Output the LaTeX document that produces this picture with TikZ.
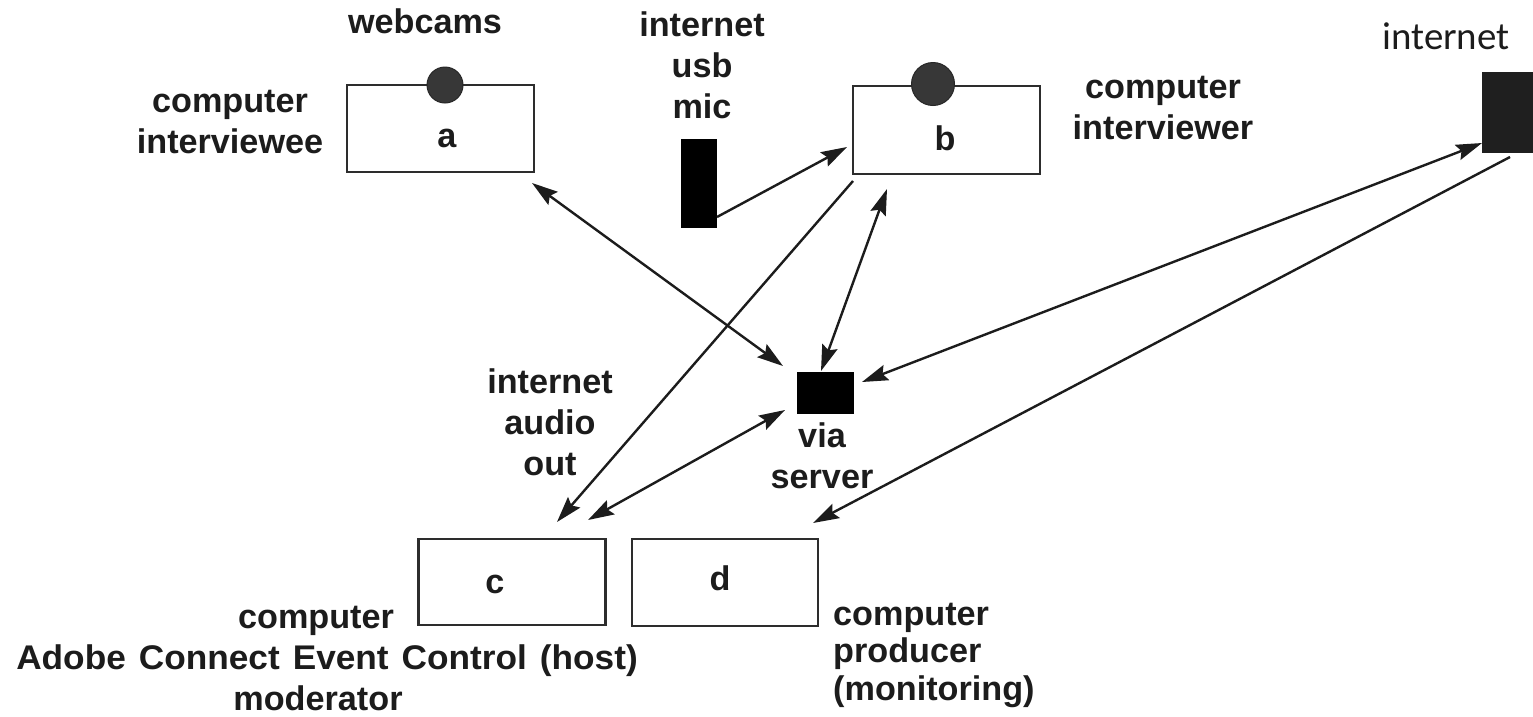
\documentclass[tikz,border=0pt]{standalone}
\usepackage{fontspec}
\setmainfont{Liberation Sans}
\newfontfamily\carl{Carlito}
\usetikzlibrary{arrows.meta}
\definecolor{ink}{RGB}{28,28,28}
\definecolor{boxline}{RGB}{45,45,45}
\definecolor{camc}{RGB}{55,55,55}
\begin{document}
\begin{tikzpicture}[x=1pt,y=-1pt,
  lbl/.style={font=\fontsize{34.2}{41}\bfseries\selectfont, text=ink, inner sep=0pt, align=center, anchor=base},
  comp/.style={draw=boxline, line width=2.5pt, fill=white, minimum width=187pt, minimum height=87pt, inner sep=0pt},
  camdot/.style={circle, fill=camc, draw=camc!70!black, line width=1pt, inner sep=0pt},
  blk/.style={fill=black, inner sep=0pt, draw=none},
  link/.style={line width=2.4pt, draw=ink, >={Stealth[length=26pt,width=16pt,inset=4pt]}}]
\clip (0,0) rectangle (1533,716);
\fill[white] (0,0) rectangle (1533,716);

% computers
\node[comp] (a) at (440.5,128.5) {};
\node[comp, minimum height=88pt] (b) at (946.5,130) {};
\node[comp, minimum height=86pt] (c) at (512,582) {};
\node[comp, minimum width=186pt] (d) at (725,582.5) {};
\node[camdot, minimum size=36pt] (cama) at (445,85) {};
\node[camdot, minimum size=43pt] (camb) at (933,84) {};

% black devices
\node[blk, minimum width=36pt, minimum height=89pt] (mic) at (699,183.5) {};
\node[blk, minimum width=57pt, minimum height=42pt] (server) at (825.5,393) {};
\node[fill=black!88, inner sep=0pt, minimum width=63pt, minimum height=81pt] (inet) at (1513.5,112.5) {};

% letters
\node[lbl] (la) at (447,147) {a};
\node[lbl] (lb) at (945,150) {b};
\node[lbl] (lc) at (495,593) {c};
\node[lbl] (ld) at (720,590) {d};

% labels (base anchor = baseline of the last line)
\node[lbl] (webcams) at (425,33) {webcams};
\node[lbl] (usbmic) at (702,118) {internet\\usb\\mic};
\node[lbl] (intee) at (230,153) {computer\\interviewee};
\node[lbl] (inter) at (1163,139) {computer\\interviewer};
\node[font=\carl\fontsize{38.9}{46}\selectfont, text=ink, inner sep=0pt, anchor=base] (inetlbl) at (1446,49) {internet};
\node[lbl] (vialbl) at (822,488) {via\\server};
\node[lbl] (audiolbl) at (550,475) {internet\\audio\\out};
\node[lbl] (modlbl) at (327,710) {computer\hspace*{22pt}\\{\addfontfeatures{FakeStretch=1.03}\spaceskip=13pt Adobe Connect Event Control (host)}\\moderator\hspace*{18pt}};
\node[lbl, font=\fontsize{34.2}{37.5}\bfseries\selectfont, align=left, anchor=base west] (prodlbl) at (833,700) {computer\\producer\\(monitoring)};

% arrow end points
\coordinate (a1) at (532,183);
\coordinate (s1) at (783,366);
\coordinate (m1) at (717,217);
\coordinate (b1) at (847,147);
\coordinate (b2) at (853,181);
\coordinate (c1) at (557,522);
\coordinate (b3) at (887,189);
\coordinate (s2) at (821,371);
\coordinate (s3) at (785,410);
\coordinate (c2) at (588,520);
\coordinate (i1) at (1482,143);
\coordinate (s4) at (862,382);
\coordinate (i2) at (1510,157);
\coordinate (d1) at (813,523);

\draw[link, <->] (a1) -- (s1);
\draw[link, ->] (m1) -- (b1);
\draw[link, ->] (b2) -- (c1);
\draw[link, <->] (b3) -- (s2);
\draw[link, <->] (s3) -- (c2);
\draw[link, <->] (i1) -- (s4);
\draw[link, ->] (i2) -- (d1);
\end{tikzpicture}
\end{document}
